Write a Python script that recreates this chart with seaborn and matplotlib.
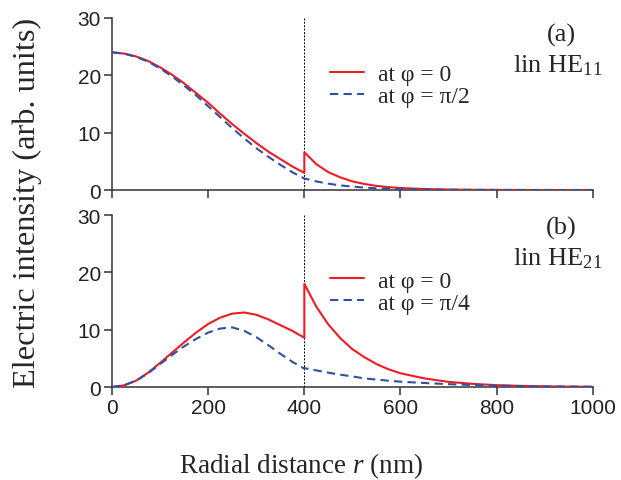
import numpy as np
import pandas as pd
import matplotlib
matplotlib.use("Agg")
import matplotlib.pyplot as plt
import seaborn as sns

# radial positions (nm): inside the fibre core and outside it
r_core = [0, 25, 50, 75, 100, 125, 150, 175, 200, 225, 250, 275, 300, 325, 350, 375, 400]
r_clad = [400, 425, 450, 475, 500, 525, 550, 575, 600, 650, 700, 750, 800, 850, 900, 950, 1000]

# (a) lin HE11
a_red_core = [24, 23.8, 23.3, 22.5, 21.4, 20.1, 18.6, 16.9, 15.2, 13.3, 11.5, 9.8, 8.2, 6.7, 5.4, 4.1, 3.0]
a_blue_core = [24, 23.8, 23.2, 22.4, 21.2, 19.8, 18.2, 16.5, 14.6, 12.7, 10.8, 9.0, 7.3, 5.8, 4.4, 3.1, 2.0]
a_red_clad = [6.6, 4.5, 3.1, 2.2, 1.5, 1.05, 0.72, 0.5, 0.35, 0.17, 0.08, 0.04, 0.02, 0.01, 0.0, 0.0, 0.0]
a_blue_clad = [2.0, 1.5, 1.1, 0.8, 0.6, 0.42, 0.3, 0.21, 0.15, 0.08, 0.04, 0.02, 0.01, 0.0, 0.0, 0.0, 0.0]

# (b) lin HE21
b_red_core = [0, 0.3, 1.1, 2.5, 4.2, 6.0, 7.8, 9.5, 11.0, 12.1, 12.8, 13.0, 12.6, 11.8, 10.8, 9.8, 8.6]
b_blue_core = [0, 0.3, 1.1, 2.4, 4.0, 5.6, 7.1, 8.4, 9.5, 10.2, 10.4, 9.8, 8.7, 7.3, 5.8, 4.4, 3.2]
b_red_clad = [18.0, 14.0, 10.9, 8.5, 6.6, 5.2, 4.0, 3.1, 2.4, 1.5, 0.9, 0.55, 0.33, 0.2, 0.12, 0.07, 0.04]
b_blue_clad = [3.3, 2.9, 2.5, 2.15, 1.85, 1.5, 1.3, 1.1, 0.93, 0.7, 0.5, 0.35, 0.24, 0.16, 0.1, 0.07, 0.05]

labels_a = ["at \u03c6 = 0", "at \u03c6 = \u03c0/2"]
labels_b = ["at \u03c6 = 0", "at \u03c6 = \u03c0/4"]

RED = "#ed1c24"
BLUE = "#2f50a3"
SERIF = ["Liberation Serif", "DejaVu Serif"]

sns.set_style("ticks")
plt.rcParams["font.family"] = ["Liberation Sans", "DejaVu Sans"]
plt.rcParams["mathtext.fontset"] = "custom"
plt.rcParams["mathtext.rm"] = "Liberation Serif"
plt.rcParams["mathtext.it"] = "Liberation Serif:italic"


def make_df(r_in, red_in, blue_in, r_out, red_out, blue_out, labels):
    r = list(r_in) + list(r_out)
    df = pd.DataFrame({
        "r": r + r,
        "I": list(red_in) + list(red_out) + list(blue_in) + list(blue_out),
        "curve": [labels[0]] * len(r) + [labels[1]] * len(r),
    })
    return df


fig = plt.figure(figsize=(6.21, 4.81), dpi=100)
ax_a = fig.add_axes([0.1804, 0.6029, 0.7742, 0.3576])
ax_b = fig.add_axes([0.1804, 0.1933, 0.7742, 0.3576])

# axes, data, legend labels, tag, mode name, legend top, tag baseline, mode baseline
panels = [
    (ax_a, make_df(r_core, a_red_core, a_blue_core, r_clad, a_red_clad, a_blue_clad, labels_a),
     labels_a, "(a)", "lin HE$_{\\mathrm{11}}$", 0.733, 0.866, 0.692),
    (ax_b, make_df(r_core, b_red_core, b_blue_core, r_clad, b_red_clad, b_blue_clad, labels_b),
     labels_b, "(b)", "lin HE$_{\\mathrm{21}}$", 0.68, 0.89, 0.715),
]

for ax, df, labels, tag, mode, leg_y, tag_y, mode_y in panels:
    ax.axvline(400, color="black", lw=0.7, ls=(0, (2, 1.5)), zorder=1)
    sns.lineplot(data=df, x="r", y="I", hue="curve", style="curve",
                 palette={labels[0]: RED, labels[1]: BLUE},
                 dashes={labels[0]: "", labels[1]: (4, 2.5)},
                 estimator=None, sort=False, lw=1.5, ax=ax, zorder=3)
    ax.set_xlim(0, 1000)
    ax.set_ylim(0, 30)
    ax.set_xticks([0, 200, 400, 600, 800, 1000])
    ax.set_yticks([0, 10, 20, 30])
    ax.set_xlabel("")
    ax.set_ylabel("")
    sns.despine(ax=ax)
    for s in ["left", "bottom"]:
        ax.spines[s].set_color("#333333")
        ax.spines[s].set_linewidth(1.1)
    ax.tick_params(direction="out", length=6, width=1.1, color="#333333",
                   labelsize=15, labelcolor="#222222", pad=2)
    leg = ax.legend(loc="upper left", bbox_to_anchor=(0.453, leg_y), frameon=False,
                    borderaxespad=0, borderpad=0, handlelength=1.45, handletextpad=0.6,
                    labelspacing=0.02, prop={"family": SERIF, "size": 17})
    for h in leg.get_lines():
        h.set_linewidth(1.5)
    ax.text(0.935, tag_y, tag, transform=ax.transAxes, ha="center", va="baseline",
            fontsize=19, family=SERIF)
    ax.text(0.835, mode_y, mode, transform=ax.transAxes, ha="left", va="baseline",
            fontsize=19, family=SERIF)

ax_a.tick_params(labelbottom=False)

fig.text(0.044, 0.578, "Electric intensity (arb. units)", rotation=90,
         ha="center", va="center", fontsize=23.3, family=SERIF)
fig.text(0.485, 0.031, "Radial distance $r$ (nm)", ha="center", va="center",
         fontsize=19.5, family=SERIF)

fig.savefig("out.png", dpi=100)
plt.close()
